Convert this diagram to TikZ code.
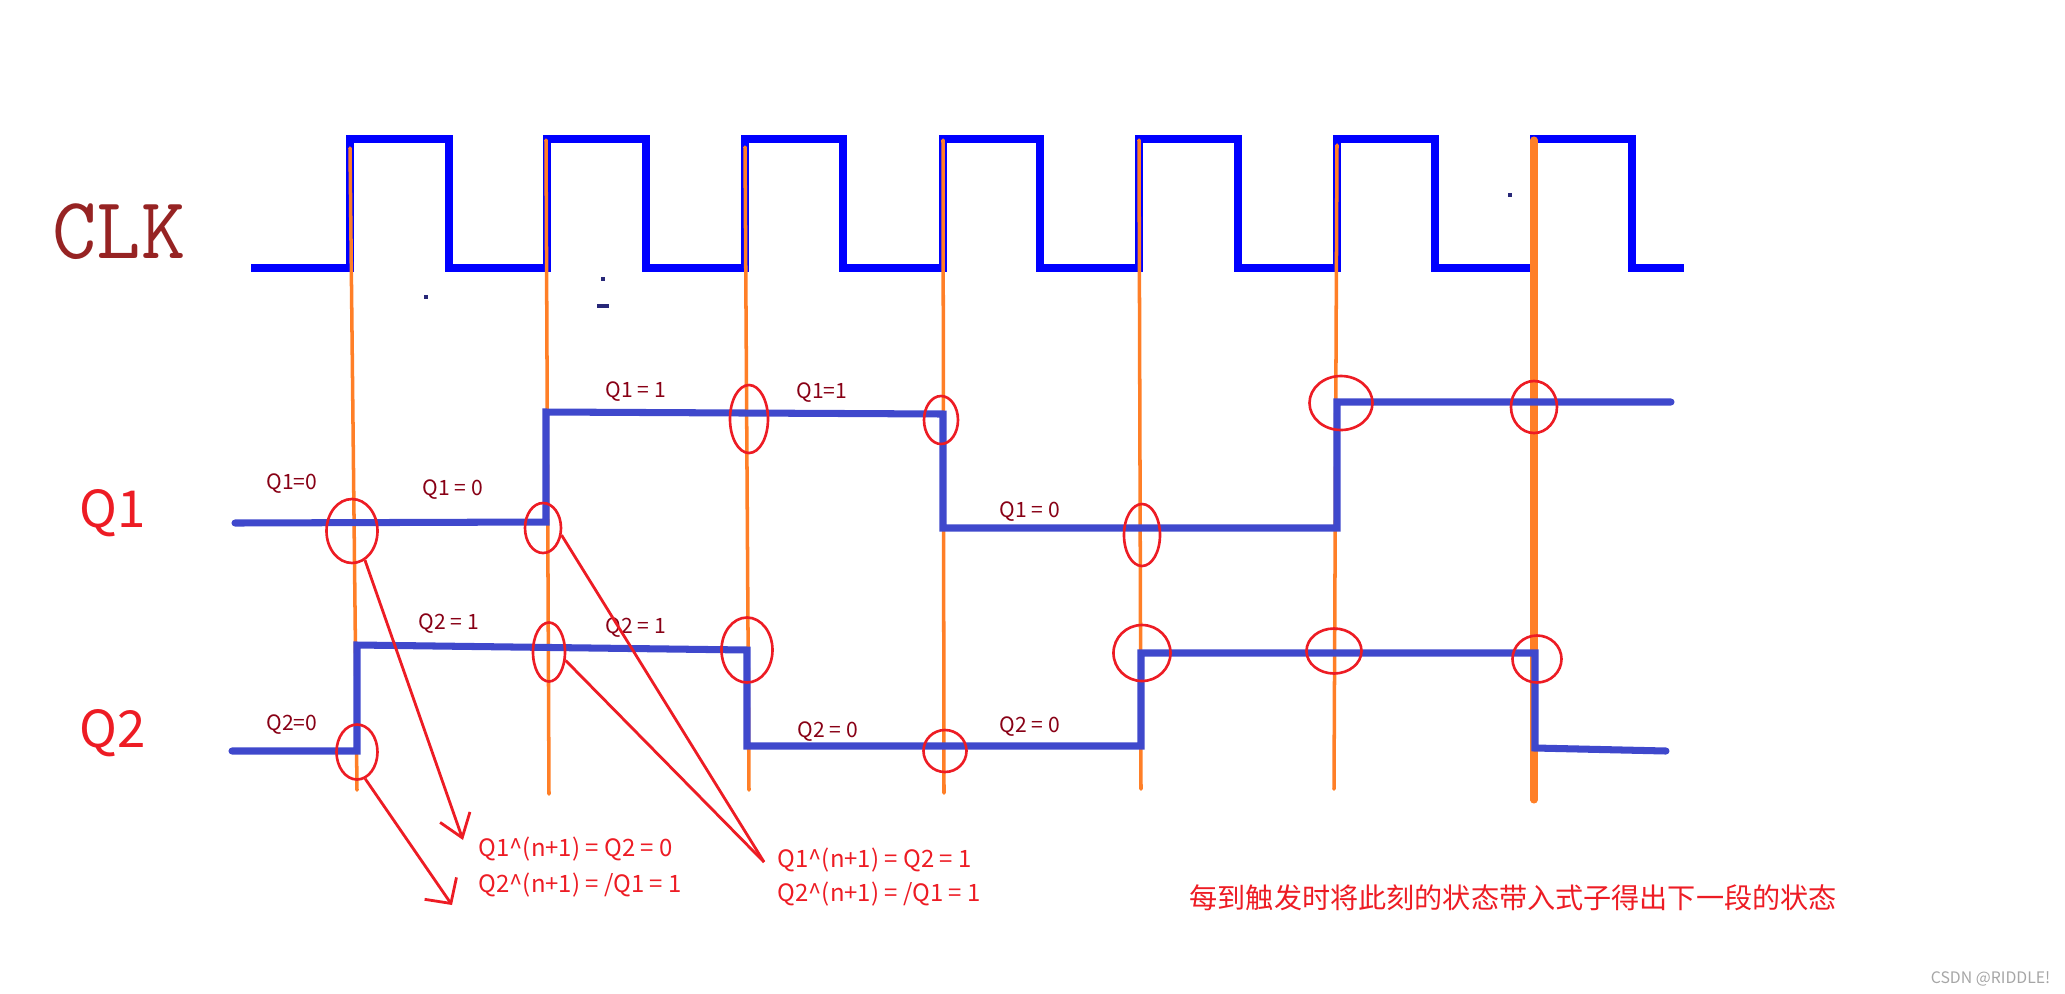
\documentclass[tikz,border=0pt]{standalone}
\usepackage{fontspec}
\usepackage{xcolor}
\usepackage{tikz}
\usetikzlibrary{shapes.geometric,arrows.meta}
\newfontfamily\cjk{Noto Sans CJK SC}
\definecolor{clkblue}{RGB}{0,0,255}
\definecolor{waveblue}{RGB}{63,72,204}
\definecolor{trigorange}{RGB}{255,127,39}
\definecolor{ringred}{RGB}{237,28,36}
\definecolor{lbldark}{RGB}{136,0,21}
\definecolor{clkred}{RGB}{150,35,35}
\definecolor{dotnavy}{RGB}{40,40,120}

\begin{document}
\begin{tikzpicture}[x=0.01cm,y=-0.01cm,
  clk/.style={draw=clkblue,line width=2pt},
  wave/.style={draw=waveblue,line width=2pt,line cap=round},
  trig/.style={draw=trigorange,line width=1pt,line cap=round},
  ring/.style 2 args={ellipse,draw=ringred,line width=0.75pt,inner sep=0pt,
    minimum width=#1*0.01cm,minimum height=#2*0.01cm},
  lvl/.style={text=lbldark,font=\cjk\fontsize{6}{7}\selectfont,anchor=base,inner sep=0pt},
  eq/.style={text=ringred,font=\cjk\fontsize{6.8}{8}\selectfont,anchor=base west,inner sep=0pt},
  sig/.style={text=ringred,font=\cjk\fontsize{14.5}{16}\selectfont,anchor=base west,inner sep=0pt},
  ptr/.style={draw=ringred,line width=0.8pt}]
\useasboundingbox (0,0) rectangle (2065,993);

% clock
\node[text=clkred,font=\ttfamily\fontsize{25}{26}\selectfont,xscale=0.98,inner sep=0pt] (clklbl) at (119,232) {CLK};
\draw[clk] (251,268) -- (350,268) -- (350,139) -- (449,139) -- (449,268) -- (547,268) -- (547,139)
  -- (646,139) -- (646,268) -- (745,268) -- (745,139) -- (843,139) -- (843,268) -- (943,268)
  -- (943,139) -- (1040,139) -- (1040,268) -- (1139,268) -- (1139,139) -- (1238,139) -- (1238,268)
  -- (1337,268) -- (1337,139) -- (1435,139) -- (1435,268) -- (1534,268) -- (1534,139) -- (1632,139)
  -- (1632,268) -- (1684,268);
\fill[dotnavy] (424,295) rectangle (428,299);
\fill[dotnavy] (601,277) rectangle (605,281);
\fill[dotnavy] (597,304) rectangle (609,308);
\fill[dotnavy] (1508,193) rectangle (1512,197);

% trigger edges
\draw[trig] (350,148) -- (357,790);
\draw[trig] (546,140) -- (549,794);
\draw[trig] (745,147) -- (749,790);
\draw[trig] (943,140) -- (944,793);
\draw[trig] (1139,140) -- (1141,789);
\draw[trig] (1337,145) -- (1334,789);
\draw[trig,line width=2pt] (1534,140) -- (1534,800);

% outputs
\node[sig] (q1lbl) at (79,527) {Q1};
\node[sig] (q2lbl) at (79,747) {Q2};
\draw[wave] (235,523) -- (546,522) -- (546,412) -- (943,414) -- (943,528) -- (1337,528)
  -- (1337,402) -- (1671,402);
\draw[wave] (232,751) -- (357,751) -- (357,645) -- (747,650) -- (747,746) -- (1141,746)
  -- (1141,653) -- (1535,653) -- (1535,748) -- (1666,751);

\node[lvl] (l1) at (292,489) {Q1=0};
\node[lvl] (l2) at (453,495) {Q1 = 0};
\node[lvl] (l3) at (636,397) {Q1 = 1};
\node[lvl] (l4) at (822,398) {Q1=1};
\node[lvl] (l5) at (1030,517) {Q1 = 0};
\node[lvl] (l6) at (292,730) {Q2=0};
\node[lvl] (l7) at (449,629) {Q2 = 1};
\node[lvl] (l8) at (636,633) {Q2 = 1};
\node[lvl] (l9) at (828,737) {Q2 = 0};
\node[lvl] (l10) at (1030,732) {Q2 = 0};

% sampled states
\node[ring={51}{64}] (r1a) at (352,531) {};
\node[ring={36}{50}] (r1b) at (543,528) {};
\node[ring={38}{68}] (r1c) at (749,419) {};
\node[ring={34}{48}] (r1d) at (941,420) {};
\node[ring={36}{62}] (r1e) at (1142,535) {};
\node[ring={63}{54}] (r1f) at (1341,403) {};
\node[ring={46}{52}] (r1g) at (1534,407) {};
\node[ring={41}{55}] (r2a) at (357,752) {};
\node[ring={32}{59}] (r2b) at (549,652) {};
\node[ring={51}{65}] (r2c) at (747,650) {};
\node[ring={43}{42}] (r2d) at (945,751) {};
\node[ring={57}{56}] (r2e) at (1142,653) {};
\node[ring={55}{45}] (r2f) at (1334,651) {};
\node[ring={49}{47}] (r2g) at (1537,659) {};

% next-state equations
\node[eq] (f1) at (478,856) {Q1\textasciicircum(n+1) = Q2 = 0};
\node[eq] (f2) at (478,892) {Q2\textasciicircum(n+1) = /Q1 = 1};
\node[eq] (f3) at (777,867) {Q1\textasciicircum(n+1) = Q2 = 1};
\node[eq] (f4) at (777,901) {Q2\textasciicircum(n+1) = /Q1 = 1};
\coordinate (t1) at (463,840);
\coordinate (t2) at (452,905);
\coordinate (t3) at (764,862);
\draw[ptr,-{Straight Barb[length=6.2pt,width=9pt]}] (r1a.-66) -- (t1);
\draw[ptr,-{Straight Barb[length=5.2pt,width=11pt]}] (r2a.-73) -- (t2);
\draw[ptr] (r1b.-21) -- (t3);
\draw[ptr] (r2b.-27) -- (t3);

\node[text=ringred,font=\cjk\fontsize{8}{10}\selectfont,anchor=base west,inner sep=0pt] (note) at (1189,908) {每到触发时将此刻的状态带入式子得出下一段的状态};
\node[text=gray!70,font=\cjk\fontsize{4.5}{5}\selectfont,anchor=base east,inner sep=0pt] (mark) at (2051,983) {CSDN @RIDDLE!};
\end{tikzpicture}
\end{document}
